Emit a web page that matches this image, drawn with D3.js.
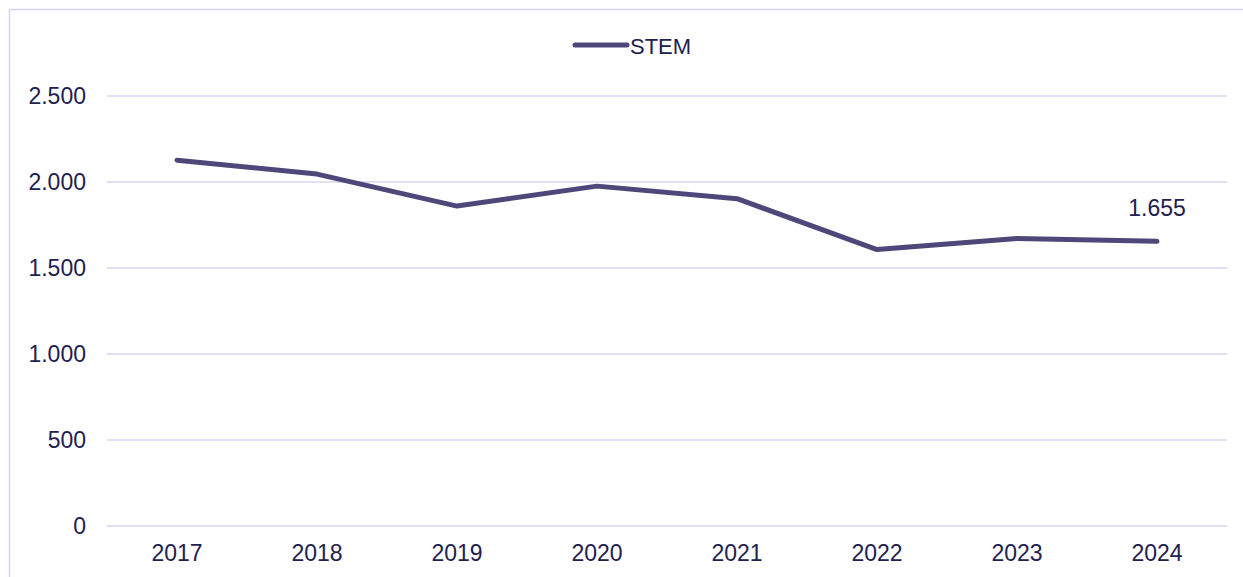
<!DOCTYPE html>
<html>
<head>
<meta charset="utf-8">
<script src="https://cdn.jsdelivr.net/npm/d3@7"></script>
<style>
  body { margin: 0; background: #fff; }
  text { font-family: "Liberation Sans", Arial, sans-serif; fill: #22204f; }
</style>
</head>
<body>
<div id="chart"></div>
<script>
// data
var years = ["2017", "2018", "2019", "2020", "2021", "2022", "2023", "2024"];
var stem = [2127, 2046, 1860, 1976, 1903, 1607, 1672, 1655];
var yTicks = [0, 500, 1000, 1500, 2000, 2500];
var seriesName = "STEM";

var W = 1243, H = 577;
var margin = {top: 96, right: 16, bottom: 51, left: 107},
    width = W - margin.left - margin.right,
    height = H - margin.top - margin.bottom;

var lineColor = "#4d4879",
    gridColor = "#d8d4f0";

var svg = d3.select("#chart")
  .append("svg")
    .attr("width", W)
    .attr("height", H);

// outer frame (top + left edges visible)
svg.append("path")
    .attr("d", "M9.5," + H + "V9.5H" + W)
    .attr("fill", "none")
    .attr("stroke", gridColor)
    .attr("stroke-width", 1.5);

var g = svg.append("g")
    .attr("transform", "translate(" + margin.left + "," + margin.top + ")");

var x = d3.scaleBand()
    .domain(years)
    .range([0, width]);

var y = d3.scaleLinear()
    .domain([0, 2500])
    .range([height, 0]);

var fmt = function(v) { return d3.format(",")(v).replace(/,/g, "."); };

// gridlines
g.append("g")
  .selectAll("line")
  .data(yTicks)
  .enter().append("line")
    .attr("x1", 0)
    .attr("x2", width)
    .attr("y1", d => y(d))
    .attr("y2", d => y(d))
    .attr("stroke", gridColor)
    .attr("stroke-width", 1.5);

// y axis labels
var yAxis = g.append("g")
    .call(d3.axisLeft(y).tickValues(yTicks).tickFormat(fmt).tickSize(0).tickPadding(21));
yAxis.select(".domain").remove();
yAxis.selectAll("text").style("font-size", "23px").attr("fill", "#22204f");

// x axis labels
var xAxis = g.append("g")
    .attr("transform", "translate(0," + height + ")")
    .call(d3.axisBottom(x).tickSize(0).tickPadding(19));
xAxis.select(".domain").remove();
xAxis.selectAll("text").style("font-size", "23px").attr("fill", "#22204f");

// the line
g.append("path")
    .datum(stem)
    .attr("fill", "none")
    .attr("stroke", lineColor)
    .attr("stroke-width", 5)
    .attr("stroke-linejoin", "round")
    .attr("stroke-linecap", "round")
    .attr("d", d3.line()
      .x((d, i) => x(years[i]) + x.bandwidth() / 2)
      .y(d => y(d)));

// last value label
var last = stem.length - 1;
g.append("text")
    .attr("x", x(years[last]) + x.bandwidth() / 2)
    .attr("y", y(stem[last]) - 25)
    .attr("text-anchor", "middle")
    .style("font-size", "23px")
    .text(fmt(stem[last]));

// legend
svg.append("line")
    .attr("x1", 575).attr("x2", 627)
    .attr("y1", 45).attr("y2", 45)
    .attr("stroke", lineColor)
    .attr("stroke-width", 5)
    .attr("stroke-linecap", "round");
svg.append("text")
    .attr("x", 630).attr("y", 46)
    .attr("dominant-baseline", "central")
    .style("font-size", "22px")
    .text(seriesName);
</script>
</body>
</html>
